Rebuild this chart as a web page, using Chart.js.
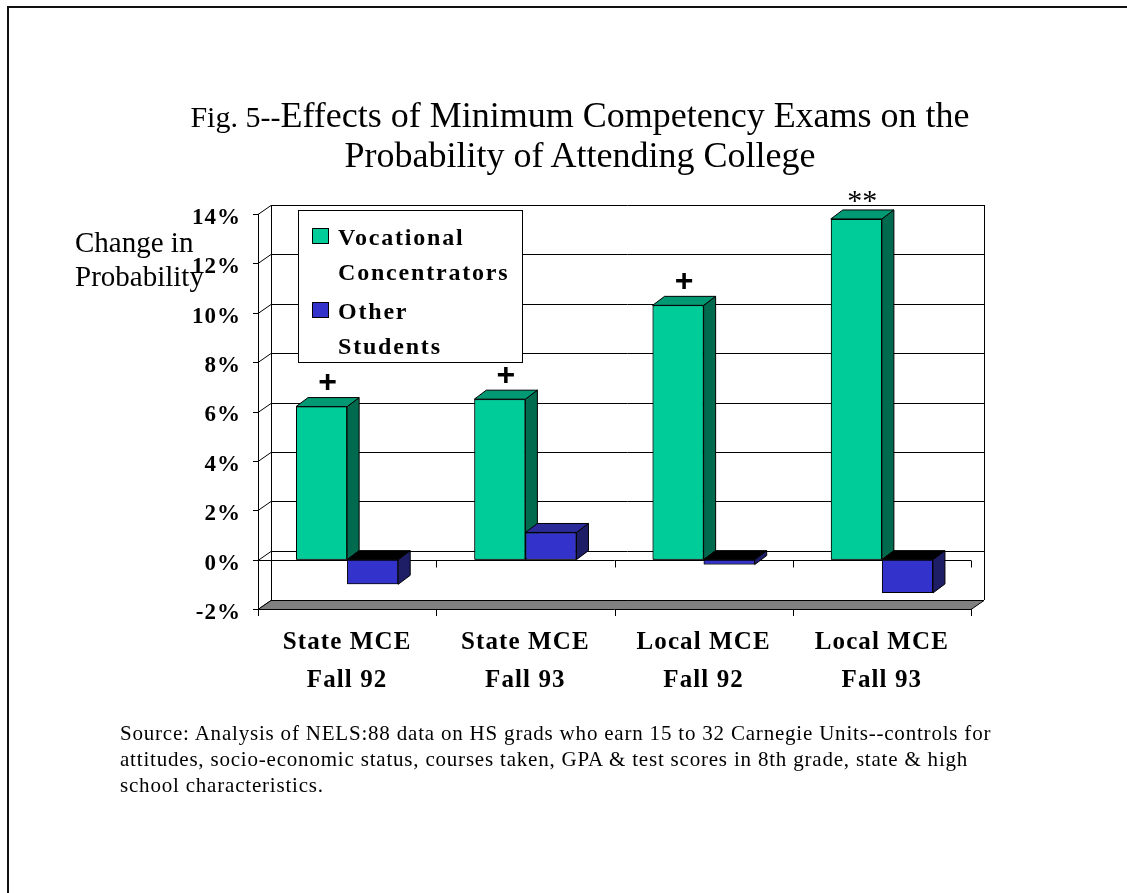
<!DOCTYPE html>
<html>
<head>
<meta charset="utf-8">
<script src="https://cdn.jsdelivr.net/npm/chart.js@4.4.1/dist/chart.umd.min.js"></script>
<style>
    body { margin: 0; background: #fff; }
    #wrap { position: relative; width: 1127px; height: 893px; overflow: hidden; }
    #frame { position: absolute; left: 7px; top: 6px; width: 1300px; height: 1000px; border-top: 2px solid #111; border-left: 2px solid #111; }
    canvas { position: absolute; left: 0; top: 0; }
    .t { position: absolute; font-family: "Liberation Serif", "Times New Roman", serif; color: #000; white-space: nowrap; }
    #title { left: 0; width: 1160px; top: 96px; text-align: center; font-size: 36px; line-height: 39px; }
    #ytitle { left: 75px; top: 225px; font-size: 29px; line-height: 34px; }
    #source { left: 120px; top: 720px; font-size: 21px; line-height: 26px; letter-spacing: 0.8px; }
</style>
</head>
<body>
<div id="wrap">
    <div id="frame"></div>
    <canvas id="mceChart" width="1127" height="893"></canvas>
    <div class="t" id="title"><span style="font-size:30px">Fig. 5--</span>Effects of Minimum Competency Exams on the<br>Probability of Attending College</div>
    <div class="t" id="ytitle">Change in<br>Probability</div>
    <div class="t" id="source">Source: Analysis of NELS:88 data on HS grads who earn 15 to 32 Carnegie Units--controls for<br>attitudes, socio-economic status, courses taken, GPA &amp; test scores in 8th grade, state &amp; high<br>school characteristics.</div>
</div>
<script>
// data
const categories = [['State MCE', 'Fall 92'], ['State MCE', 'Fall 93'], ['Local MCE', 'Fall 92'], ['Local MCE', 'Fall 93']];
const seriesNames = ['Vocational Concentrators', 'Other Students'];
const vocational = [6.2, 6.5, 10.3, 13.8];
const otherStudents = [-1.0, 1.1, -0.2, -1.35];
const markers = ['+', '+', '+', '**'];
const yTicks = [-2, 0, 2, 4, 6, 8, 10, 12, 14];

const colors = [
    { front: '#00CC99', side: '#006A4E', top: '#009973' },
    { front: '#3333CC', side: '#1E1E66', top: '#2A2A99' }
];

const DX = 13, DY = 9;    // depth of walls
const BDX = 12, BDY = 9;  // depth of bars
const serif = '"Liberation Serif", "Times New Roman", serif';

function poly(ctx, pts, fill) {
    ctx.beginPath();
    ctx.moveTo(pts[0][0], pts[0][1]);
    for (let i = 1; i < pts.length; i++) ctx.lineTo(pts[i][0], pts[i][1]);
    ctx.closePath();
    if (fill) { ctx.fillStyle = fill; ctx.fill(); }
    ctx.strokeStyle = '#000';
    ctx.lineWidth = 1;
    ctx.stroke();
}

function line(ctx, pts) {
    ctx.beginPath();
    ctx.moveTo(pts[0][0], pts[0][1]);
    for (let i = 1; i < pts.length; i++) ctx.lineTo(pts[i][0], pts[i][1]);
    ctx.strokeStyle = '#000';
    ctx.lineWidth = 1;
    ctx.stroke();
}

// back wall, floor, axes
const wallPlugin = {
    id: 'walls',
    beforeDatasetsDraw(chart) {
        const { ctx, chartArea: a, scales: { x, y } } = chart;
        const L = a.left, R = a.right;
        const T = y.getPixelForValue(yTicks[yTicks.length - 1]);
        const B = y.getPixelForValue(yTicks[0]);
        const y0 = y.getPixelForValue(0);
        const w = x.getPixelForValue(1) - x.getPixelForValue(0);
        ctx.save();

        // gridlines on side + back wall
        yTicks.forEach(v => {
            const py = Math.round(y.getPixelForValue(v)) + 0.5;
            line(ctx, [[L, py], [L + DX, py - DY], [R + DX, py - DY]]);
        });
        // wall edges
        line(ctx, [[L + DX + 0.5, T - DY], [L + DX + 0.5, B - DY]]);
        line(ctx, [[R + DX + 0.5, T - DY], [R + DX + 0.5, B - DY]]);

        // floor
        poly(ctx, [[L, B + 0.5], [R, B + 0.5], [R + DX, B - DY + 0.5], [L + DX, B - DY + 0.5]], '#808080');

        // value axis
        line(ctx, [[L + 0.5, T], [L + 0.5, B + 7]]);
        yTicks.forEach(v => {
            const py = Math.round(y.getPixelForValue(v)) + 0.5;
            line(ctx, [[L - 5, py], [L, py]]);
        });

        // category axis at zero + ticks below floor
        const zy = Math.round(y0) + 0.5;
        line(ctx, [[L, zy], [R, zy]]);
        for (let i = 1; i <= categories.length; i++) {
            const px = Math.round(L + i * w) + 0.5;
            line(ctx, [[px, zy], [px, zy + 7]]);
            line(ctx, [[px, B], [px, B + 7]]);
        }

        // tick labels
        ctx.fillStyle = '#000';
        ctx.font = 'bold 23px ' + serif;
        ctx.letterSpacing = '1px';
        ctx.textAlign = 'right';
        ctx.textBaseline = 'middle';
        yTicks.forEach(v => {
            ctx.fillText(v + '%', L - 17, y.getPixelForValue(v) + 4);
        });
        ctx.restore();
    },
    afterDatasetsDraw(chart) {
        const { ctx, chartArea: a, scales: { x, y } } = chart;
        ctx.save();

        // 3d faces, left to right
        const bars = [];
        chart.data.datasets.forEach((ds, di) => {
            chart.getDatasetMeta(di).data.forEach((bar, i) => bars.push({ bar, di, i }));
        });
        bars.sort((p, q) => p.bar.x - q.bar.x);
        bars.forEach(({ bar, di }) => {
            const half = bar.width / 2;
            const x0 = bar.x - half, x1 = bar.x + half;
            const top = Math.min(bar.y, bar.base), bot = Math.max(bar.y, bar.base);
            const neg = bar.y > bar.base;
            poly(ctx, [[x1, top], [x1 + BDX, top - BDY], [x1 + BDX, bot - BDY], [x1, bot]], colors[di].side);
            poly(ctx, [[x0, top], [x1, top], [x1 + BDX, top - BDY], [x0 + BDX, top - BDY]], neg ? '#000' : colors[di].top);
            bar.draw(ctx);
        });

        // significance markers
        ctx.fillStyle = '#000';
        ctx.textAlign = 'center';
        ctx.textBaseline = 'middle';
        chart.getDatasetMeta(0).data.forEach((bar, i) => {
            const plus = markers[i] === '+';
            ctx.font = plus ? 'bold 32px "Liberation Sans", Arial, sans-serif' : '30px ' + serif;
            ctx.fillText(markers[i], bar.x + BDX / 2, bar.y - BDY - (plus ? 14 : 8));
        });

        // legend
        const lx = 298.5, ly = 210.5;
        ctx.fillStyle = '#fff';
        ctx.fillRect(lx, ly, 224, 152);
        ctx.strokeStyle = '#000';
        ctx.lineWidth = 1;
        ctx.strokeRect(lx, ly, 224, 152);
        ctx.font = 'bold 24px ' + serif;
        ctx.letterSpacing = '1.8px';
        ctx.textAlign = 'left';
        ctx.textBaseline = 'alphabetic';
        seriesNames.forEach((name, k) => {
            const by = ly + 34 + k * 74;
            ctx.fillStyle = colors[k].front;
            ctx.fillRect(312.5, by - 16, 16, 15);
            ctx.strokeRect(312.5, by - 16, 16, 15);
            ctx.fillStyle = '#000';
            name.split(' ').forEach((part, j) => {
                ctx.fillText(part, 338, by + j * 35);
            });
        });

        // category labels
        ctx.font = 'bold 25px ' + serif;
        ctx.letterSpacing = '1.1px';
        ctx.textAlign = 'center';
        ctx.textBaseline = 'middle';
        const B = y.getPixelForValue(yTicks[0]);
        categories.forEach((lines, i) => {
            const px = x.getPixelForValue(i);
            lines.forEach((s, j) => ctx.fillText(s, px, B + 34 + j * 38));
        });
        ctx.restore();
    }
};

new Chart(document.getElementById('mceChart'), {
    type: 'bar',
    data: {
        labels: categories,
        datasets: [
            {
                label: seriesNames[0],
                data: vocational,
                backgroundColor: colors[0].front,
                borderColor: '#000',
                borderWidth: 1,
                borderSkipped: false
            },
            {
                label: seriesNames[1],
                data: otherStudents,
                backgroundColor: colors[1].front,
                borderColor: '#000',
                borderWidth: 1,
                borderSkipped: false
            }
        ]
    },
    options: {
        responsive: false,
        animation: false,
        layout: {
            padding: { left: 258, right: 156, top: 214, bottom: 284 }
        },
        datasets: {
            bar: { categoryPercentage: 0.573, barPercentage: 1 }
        },
        scales: {
            x: { display: false, offset: true },
            y: { display: false, min: -2, max: 14 }
        },
        plugins: {
            legend: { display: false },
            tooltip: { enabled: false }
        }
    },
    plugins: [wallPlugin]
});
</script>
</body>
</html>
